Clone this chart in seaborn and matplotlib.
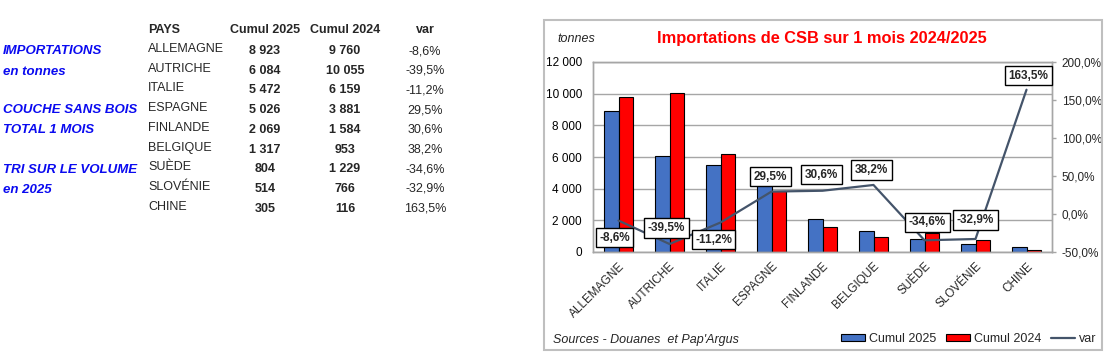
import numpy as np
import pandas as pd
import matplotlib
matplotlib.use("Agg")
import matplotlib.pyplot as plt
import seaborn as sns
from matplotlib.patches import Patch, Rectangle
from matplotlib.lines import Line2D
from matplotlib.ticker import FixedLocator, FuncFormatter

# ---------------- data ----------------
countries = ["ALLEMAGNE", "AUTRICHE", "ITALIE", "ESPAGNE", "FINLANDE",
             "BELGIQUE", "SUÈDE", "SLOVÉNIE", "CHINE"]
cumul_2025 = [8923, 6084, 5472, 5026, 2069, 1317, 804, 514, 305]
cumul_2024 = [9760, 10055, 6159, 3881, 1584, 953, 1229, 766, 116]
var_pct = [-8.6, -39.5, -11.2, 29.5, 30.6, 38.2, -34.6, -32.9, 163.5]
series_names = ["Cumul 2025", "Cumul 2024"]
line_name = "var"
table_headers = ["PAYS", "Cumul 2025", "Cumul 2024", "var"]
left_notes = ["IMPORTATIONS", "en tonnes", "COUCHE SANS BOIS", "TOTAL 1 MOIS",
              "TRI SUR LE VOLUME", "en 2025"]
chart_title = "Importations de CSB sur 1 mois 2024/2025"
unit_label = "tonnes"
source_text = "Sources - Douanes  et Pap'Argus"
y_ticks = [0, 2000, 4000, 6000, 8000, 10000, 12000]
var_ticks = [-50, 0, 50, 100, 150, 200]

# ---------------- style ----------------
BLUE = "#4472C4"
RED = "#FF0000"
LINE = "#44546A"
GRID = "#A6A6A6"
NOTE_BLUE = "#0A0AF0"

sns.set_style("white")
plt.rcParams["font.family"] = ["Liberation Sans", "DejaVu Sans"]

W, H = 1105, 360
fig = plt.figure(figsize=(W / 100, H / 100), dpi=100)


def fx(x):
    return x / W


def fy(y):
    return 1 - y / H


def fmt_thousands(v):
    return f"{int(round(v)):,}".replace(",", " ")


def fmt_pct(v):
    return f"{v:.1f}%".replace(".", ",")


n = len(countries)

# ---------------- chart ----------------
ax = fig.add_axes([fx(593), fy(252), (1052 - 593) / W, (252 - 62) / H])
df = pd.DataFrame({
    "pays": countries * 2,
    "valeur": cumul_2025 + cumul_2024,
    "serie": [series_names[0]] * n + [series_names[1]] * n,
})
sns.barplot(data=df, x="pays", y="valeur", hue="serie", order=countries,
            hue_order=series_names, palette=[BLUE, RED], saturation=1, width=0.58,
            edgecolor="black", linewidth=0.8, errorbar=None, legend=False, ax=ax)
ax.set_ylim(0, 12000)
ax.yaxis.set_major_locator(FixedLocator(y_ticks))
ax.yaxis.set_major_formatter(FuncFormatter(lambda v, p: fmt_thousands(v)))
ax.yaxis.grid(True, color=GRID, lw=1)
ax.set_axisbelow(True)
ax.set_xlabel("")
ax.set_ylabel("")
ax.tick_params(axis="y", length=0, pad=8, labelsize=8.5, colors="black")
ax.set_xticks(range(n))
ax.set_xticklabels(countries, rotation=45, ha="right", va="top",
                   rotation_mode="anchor", fontsize=8.5)
ax.tick_params(axis="x", length=0, pad=6)
for s in ax.spines.values():
    s.set_color(GRID)
    s.set_linewidth(1)

ax2 = ax.twinx()
sns.lineplot(x=np.arange(n), y=var_pct, ax=ax2, color=LINE, lw=1.6)
ax2.set_ylim(-50, 200)
ax2.yaxis.set_major_locator(FixedLocator(var_ticks))
ax2.yaxis.set_major_formatter(FuncFormatter(lambda v, p: fmt_pct(v)))
ax2.tick_params(axis="y", length=3, width=1, color=GRID, pad=4, labelsize=8.5)
ax2.set_ylabel("")
ax2.grid(False)
for s in ax2.spines.values():
    s.set_color(GRID)
    s.set_linewidth(1)
ax.set_xlim(-0.5, n - 0.5)

label_offsets = [(-4, -17), (-3, 16), (-7, -17), (-1, 15), (-1, 16),
                 (-2, 15), (3, 18), (0, 19), (2, 14)]
for i, (v, off) in enumerate(zip(var_pct, label_offsets)):
    ax2.annotate(fmt_pct(v), xy=(i, v), xytext=off, textcoords="offset pixels",
                 ha="center", va="center", fontsize=8.5, fontweight="bold",
                 bbox=dict(boxstyle="square,pad=0.3", fc="white", ec="black", lw=1),
                 zorder=5)

fig.text(fx(822), fy(39), chart_title, color="red", fontweight="bold",
         fontsize=11.8, ha="center", va="center")
fig.text(fx(557), fy(39), unit_label, style="italic", fontsize=9, va="center")
fig.text(fx(553), fy(340), source_text, style="italic", fontsize=9, va="center")

handles = [Patch(fc=BLUE, ec="black", lw=0.8), Patch(fc=RED, ec="black", lw=0.8),
           Line2D([], [], color=LINE, lw=1.6)]
fig.legend(handles, series_names + [line_name], loc="center right",
           bbox_to_anchor=(fx(1096), fy(339)), ncol=3, frameon=False, fontsize=9,
           handlelength=1.9, handleheight=0.4, handletextpad=0.3,
           columnspacing=0.8, borderpad=0, borderaxespad=0)

fig.add_artist(Rectangle((fx(544), fy(350)), (1102 - 544) / W, (350 - 20) / H,
                         transform=fig.transFigure, fill=False, ec="#BFBFBF", lw=1.5))

# ---------------- table ----------------
fs = 9
col_x = [148, 265, 345, 425]
fig.text(fx(col_x[0]), fy(30), table_headers[0], fontweight="bold", fontsize=fs,
         ha="left", va="center")
for cx, h in zip(col_x[1:], table_headers[1:]):
    fig.text(fx(cx), fy(30), h, fontweight="bold", fontsize=fs, ha="center", va="center")
for i in range(n):
    yn = 49 + 19.7 * i
    yv = 51 + 19.7 * i
    fig.text(fx(col_x[0]), fy(yn), countries[i], fontsize=fs, ha="left", va="center")
    fig.text(fx(col_x[1]), fy(yv), fmt_thousands(cumul_2025[i]), fontsize=fs,
             fontweight="bold", ha="center", va="center")
    fig.text(fx(col_x[2]), fy(yv), fmt_thousands(cumul_2024[i]), fontsize=fs,
             fontweight="bold", ha="center", va="center")
    fig.text(fx(col_x[3]), fy(yv), fmt_pct(var_pct[i]), fontsize=fs,
             ha="center", va="center")

note_y = [51, 72, 110, 130, 170, 190]
for t, yy in zip(left_notes, note_y):
    fig.text(fx(3), fy(yy), t, color=NOTE_BLUE, fontweight="bold", style="italic",
             fontsize=9.5, ha="left", va="center")

fig.savefig("out.png", dpi=100, facecolor="white")
